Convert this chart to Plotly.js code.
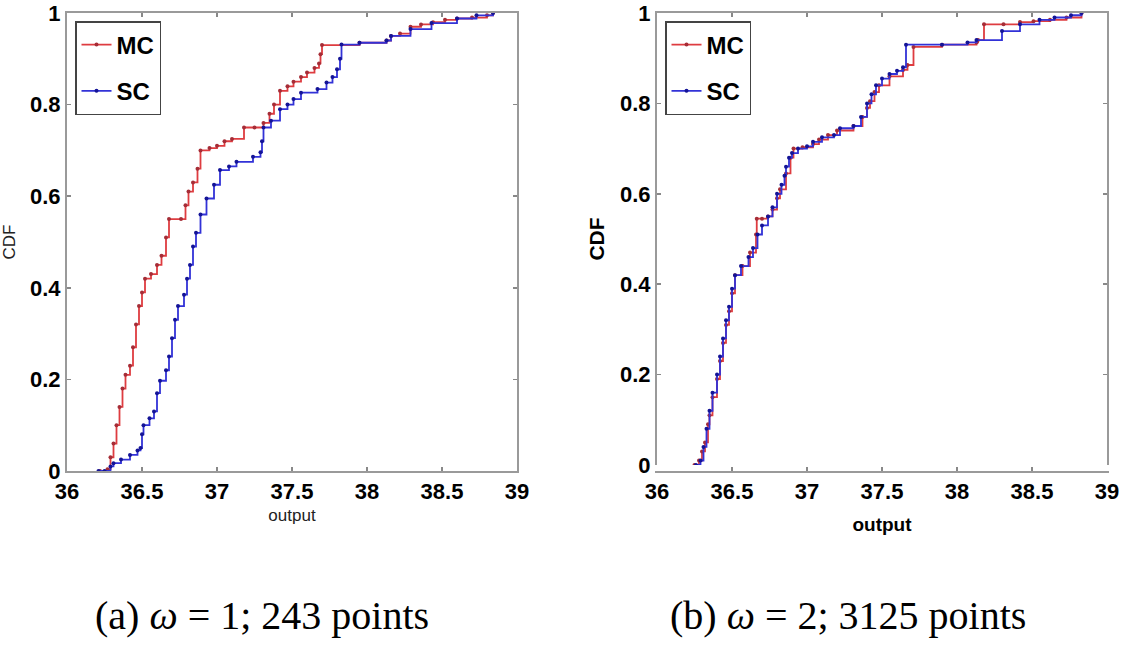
<!DOCTYPE html>
<html>
<head>
<meta charset="utf-8">
<script src="https://cdn.plot.ly/plotly-3.0.1.min.js"></script>
<style>html,body{margin:0;padding:0;background:#fff;}</style>
</head>
<body>
<div id="chart" style="width:1122px;height:655px;"></div>
<script>
// ---- Panel (a): omega = 1, 243 points ----
const mcXa = [36.22,36.27,36.29,36.31,36.33,36.35,36.37,36.39,36.42,36.44,36.46,36.48,36.50,36.52,36.56,36.60,36.63,36.66,36.68,36.76,36.79,36.81,36.84,36.87,36.89,36.95,37.00,37.05,37.10,37.18,37.25,37.31,37.35,37.38,37.42,37.47,37.51,37.56,37.60,37.65,37.68,37.69,37.70,37.95,38.13,38.16,38.22,38.29,38.36,38.44,38.52,38.60,38.70,38.80,38.84];
const mcYa = [0,0.004,0.03,0.06,0.10,0.14,0.18,0.21,0.23,0.27,0.32,0.36,0.39,0.42,0.43,0.45,0.47,0.51,0.55,0.55,0.58,0.61,0.63,0.66,0.70,0.705,0.71,0.72,0.725,0.75,0.75,0.76,0.78,0.80,0.83,0.84,0.85,0.86,0.87,0.88,0.89,0.91,0.93,0.935,0.94,0.95,0.955,0.97,0.975,0.98,0.985,0.988,0.99,0.995,1.0];
const scXa = [36.21,36.25,36.29,36.31,36.36,36.42,36.47,36.49,36.50,36.51,36.55,36.58,36.60,36.62,36.66,36.68,36.70,36.72,36.74,36.78,36.80,36.82,36.84,36.86,36.89,36.93,36.98,37.02,37.08,37.13,37.24,37.29,37.30,37.31,37.36,37.42,37.47,37.51,37.56,37.67,37.73,37.77,37.80,37.82,37.83,37.95,38.13,38.16,38.29,38.43,38.60,38.73,38.84];
const scYa = [0,0,0.01,0.017,0.025,0.035,0.045,0.05,0.08,0.10,0.115,0.13,0.17,0.197,0.22,0.25,0.29,0.33,0.36,0.385,0.42,0.45,0.49,0.52,0.56,0.595,0.625,0.657,0.665,0.675,0.686,0.696,0.72,0.75,0.765,0.79,0.80,0.812,0.826,0.834,0.848,0.86,0.877,0.90,0.931,0.935,0.94,0.95,0.965,0.978,0.988,0.995,1.0];

// ---- Panel (b): omega = 2, 3125 points ----
const mcXb = [36.25,36.28,36.30,36.32,36.34,36.35,36.37,36.40,36.42,36.44,36.46,36.48,36.50,36.52,36.57,36.62,36.66,36.665,36.70,36.74,36.77,36.80,36.82,36.86,36.89,36.91,36.97,37.04,37.08,37.14,37.20,37.31,37.37,37.40,37.42,37.45,37.48,37.55,37.64,37.67,37.71,37.90,38.13,38.14,38.18,38.31,38.42,38.51,38.62,38.73,38.83];
const mcYb = [0,0.01,0.03,0.05,0.09,0.11,0.15,0.19,0.23,0.27,0.31,0.34,0.38,0.42,0.44,0.47,0.51,0.545,0.545,0.55,0.565,0.59,0.61,0.645,0.68,0.70,0.703,0.71,0.72,0.73,0.74,0.75,0.77,0.79,0.805,0.825,0.84,0.86,0.874,0.885,0.925,0.93,0.935,0.94,0.975,0.975,0.98,0.982,0.985,0.99,1.0];
const scXb = [36.26,36.29,36.31,36.33,36.35,36.37,36.40,36.42,36.44,36.46,36.48,36.50,36.52,36.56,36.61,36.64,36.67,36.70,36.74,36.77,36.80,36.83,36.85,36.86,36.88,36.90,36.94,37.00,37.04,37.10,37.18,37.22,37.31,37.36,37.40,37.43,37.46,37.50,37.55,37.60,37.64,37.66,37.90,38.07,38.13,38.30,38.42,38.55,38.65,38.76,38.83];
const scYb = [0,0.01,0.04,0.08,0.12,0.16,0.20,0.24,0.28,0.32,0.35,0.39,0.42,0.44,0.46,0.48,0.51,0.53,0.55,0.57,0.60,0.62,0.64,0.66,0.68,0.69,0.70,0.705,0.715,0.725,0.73,0.745,0.75,0.77,0.80,0.82,0.84,0.855,0.865,0.872,0.88,0.93,0.93,0.935,0.94,0.96,0.975,0.985,0.99,0.995,1.0];

const seriesNames = ['MC','SC'];
const xTicks = [36,36.5,37,37.5,38,38.5,39];
const xTickText = ['36','36.5','37','37.5','38','38.5','39'];
const yTicks = [0,0.2,0.4,0.6,0.8,1];
const yTickText = ['0','0.2','0.4','0.6','0.8','1'];
const captions = ['(a) <i>ω</i> = 1; 243 points','(b) <i>ω</i> = 2; 3125 points'];

const W = 1122, H = 655;
const mcLine = 'rgb(222,60,64)', mcMark = 'rgb(165,45,55)';
const scLine = 'rgb(50,50,215)', scMark = 'rgb(20,20,150)';

function tr(x, y, name, lc, mc, xa, ya, leg, grp) {
  return {
    x: x, y: y, name: name, type: 'scatter', mode: 'lines+markers',
    line: {shape: 'hv', color: lc, width: 1.8},
    marker: {size: 4, color: mc},
    xaxis: xa, yaxis: ya, legend: leg, legendgroup: grp, showlegend: true
  };
}

const data = [
  tr(mcXa, mcYa, seriesNames[0], mcLine, mcMark, 'x', 'y', 'legend', 'a1'),
  tr(scXa, scYa, seriesNames[1], scLine, scMark, 'x', 'y', 'legend', 'a2'),
  tr(mcXb, mcYb, seriesNames[0], mcLine, mcMark, 'x2', 'y2', 'legend2', 'b1'),
  tr(scXb, scYb, seriesNames[1], scLine, scMark, 'x2', 'y2', 'legend2', 'b2')
];

const tickFont = {family: 'Liberation Sans, Arial, sans-serif', size: 22, color: '#000', weight: 'bold'};
function xax(dom, titleFont, standoff) {
  return {
    domain: dom, range: [36, 39], tickvals: xTicks, ticktext: xTickText,
    showline: true, linecolor: '#9a9a9a', linewidth: 2, mirror: 'ticks',
    ticks: 'inside', ticklen: 4, tickcolor: '#888', tickwidth: 1.5,
    showgrid: false, zeroline: false, tickfont: tickFont, automargin: false,
    ticklabeloverflow: 'allow',
    title: {text: 'output', font: titleFont, standoff: standoff}
  };
}
function yax(dom, anchor, titleFont, standoff) {
  return {
    domain: dom, range: [0, 1], tickvals: yTicks, ticktext: yTickText, anchor: anchor,
    showline: true, linecolor: '#9a9a9a', linewidth: 2, mirror: 'ticks',
    ticks: 'inside', ticklen: 4, tickcolor: '#888', tickwidth: 1.5,
    showgrid: false, zeroline: false, tickfont: tickFont, automargin: false,
    ticklabeloverflow: 'allow',
    title: {text: 'CDF', font: titleFont, standoff: standoff}
  };
}

const legFont = {family: 'Liberation Sans, Arial, sans-serif', size: 24, color: '#000', weight: 'bold'};
function leg(xpx) {
  return {
    x: xpx / W, y: 1 - 21 / H, xanchor: 'left', yanchor: 'top',
    bgcolor: '#fff', bordercolor: '#444', borderwidth: 1.5,
    font: legFont, tracegroupgap: 12, itemwidth: 30
  };
}

const layout = {
  width: W, height: H,
  margin: {l: 0, r: 0, t: 0, b: 0},
  paper_bgcolor: '#fff', plot_bgcolor: '#fff',
  xaxis: xax([67 / W, 517 / W], {family: 'Liberation Sans, Arial, sans-serif', size: 17, color: '#222'}, 6),
  yaxis: yax([1 - 471 / H, 1 - 13 / H], 'x', {family: 'Liberation Sans, Arial, sans-serif', size: 17, color: '#222'}, 14),
  xaxis2: xax([657 / W, 1107 / W], {family: 'Liberation Sans, Arial, sans-serif', size: 19, color: '#000', weight: 'bold'}, 14),
  yaxis2: yax([1 - 465 / H, 1 - 13 / H], 'x2', {family: 'Liberation Sans, Arial, sans-serif', size: 21, color: '#000', weight: 'bold'}, 10),
  legend: leg(75),
  legend2: leg(665),
  annotations: [
    {text: captions[0], xref: 'paper', yref: 'paper', x: 262 / W, y: 1 - 615 / H, xanchor: 'center', yanchor: 'middle', showarrow: false,
     font: {family: 'Liberation Serif, Times New Roman, serif', size: 40, color: '#000'}},
    {text: captions[1], xref: 'paper', yref: 'paper', x: 848 / W, y: 1 - 615 / H, xanchor: 'center', yanchor: 'middle', showarrow: false,
     font: {family: 'Liberation Serif, Times New Roman, serif', size: 40, color: '#000'}}
  ]
};

Plotly.newPlot('chart', data, layout, {displayModeBar: false, staticPlot: true});
</script>
</body>
</html>
